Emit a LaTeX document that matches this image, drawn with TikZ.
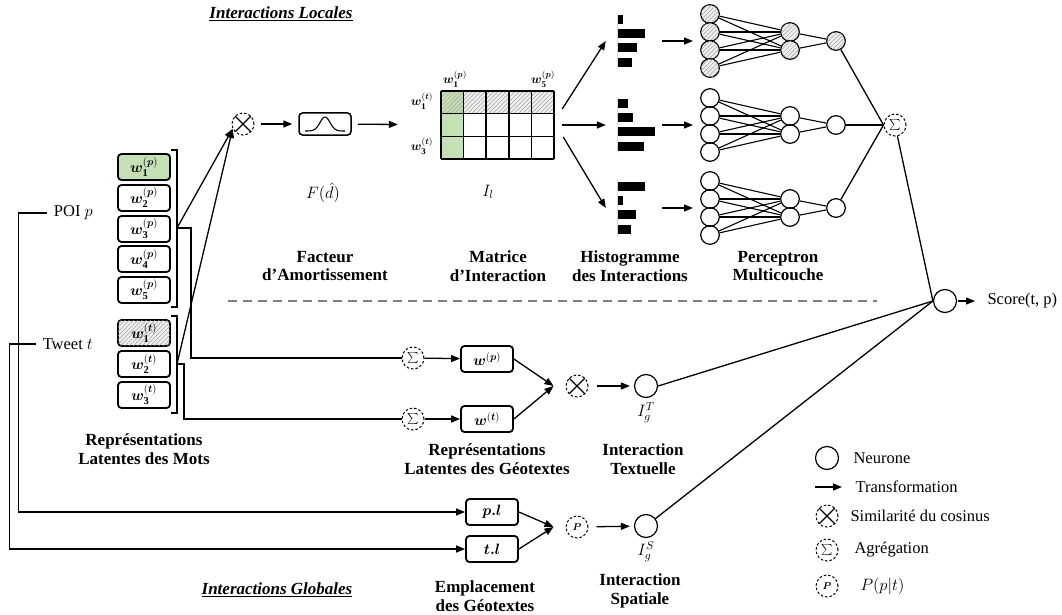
\RequirePackage{fix-cm}
\documentclass[tikz,border=0pt]{standalone}
\usepackage{fontspec}
\setmainfont{Liberation Serif}
\usepackage{amsmath,bm}
\usetikzlibrary{arrows.meta,patterns.meta,calc}
\definecolor{wgreen}{RGB}{197,224,180}
\tikzset{
  lbl/.style={align=center,font=\fontsize{17}{18.5}\selectfont\bfseries},
  ttl/.style={font=\fontsize{17}{18}\selectfont\bfseries\itshape},
  wbox/.style={draw,line width=1.8pt,rounded corners=3.5pt,minimum width=52pt,minimum height=26pt,inner sep=0pt,font=\fontsize{15}{15}\selectfont},
  hatch/.style={fill=gray!12,postaction={pattern={Lines[angle=45,distance=3pt,line width=0.5pt]},pattern color=gray!75}},
  nrn/.style={circle,draw,line width=1.2pt,minimum size=18.6pt,inner sep=0pt},
  nrnh/.style={nrn,hatch},
  bnrn/.style={nrn,minimum size=23pt},
  ops/.style={circle,draw,dash pattern=on 2.5pt off 2pt,line width=1pt,minimum size=22pt,inner sep=0pt,font=\fontsize{11}{11}\selectfont},
  xop/.style={ops,path picture={\draw[solid,line width=1.1pt] (path picture bounding box.south west) -- (path picture bounding box.north east) (path picture bounding box.north west) -- (path picture bounding box.south east);}},
  ln/.style={line width=1.3pt},
  tr/.style={ln,-{Triangle[length=9pt,width=7pt]}},
  gap/.style={shorten <=6pt,shorten >=6pt},
  hist/.style={minimum width=56pt,minimum height=56pt,inner sep=0pt},
  small/.style={font=\fontsize{12.5}{12.5}\selectfont},
}
\begin{document}
\begin{tikzpicture}[x=1pt,y=-1pt,font=\fontsize{16.5}{18.5}\selectfont]
\useasboundingbox (0,0) rectangle (1062,615);

% titres
\node[ttl] (tloc) at (281,14) {\underline{Interactions Locales}};
\node[ttl] (tglob) at (277,590) {\underline{Interactions Globales}};

% mots
\node[wbox,fill=wgreen] (p1) at (144,167) {$\bm{w}^{(\bm{p})}_{\mathbf{1}}$};
\foreach \i/\y in {2/198,3/229,4/259,5/290}
  \node[wbox] (p\i) at (144,\y) {$\bm{w}^{(\bm{p})}_{\mathbf{\i}}$};
\node[wbox,hatch] (t1) at (144,333) {$\bm{w}^{(\bm{t})}_{\mathbf{1}}$};
\foreach \i/\y in {2/364,3/395}
  \node[wbox] (t\i) at (144,\y) {$\bm{w}^{(\bm{t})}_{\mathbf{\i}}$};
\draw[ln,line width=1.1pt] (171,150) -- (177,150) -- (177,307) -- (171,307);
\draw[ln,line width=1.1pt] (171,316) -- (177,316) -- (177,413) -- (171,413);
\coordinate (bp) at (177,228);
\coordinate (bt) at (177,364);
\node[lbl] (lmots) at (144,449) {Représentations\\Latentes des Mots};

\node[anchor=east,inner xsep=7pt] (poi) at (100,213) {POI $p$};
\node[anchor=east,inner xsep=7pt] (tw) at (100,344) {Tweet $t$};

% interactions locales
\node[xop] (cx) at (243,124) {};
\node[wbox,minimum height=22pt,line width=1.5pt] (g) at (325,124) {};
\draw[line width=1.1pt] plot[domain=-20:20,samples=40] ({325+\x},{131-14*exp(-\x*\x/50)});
\node (fd) at (323,193) {$F(\hat{d})$};

\node[minimum width=149pt,minimum height=68pt,inner sep=0pt] (mat) at (479.5,125) {};
\path[hatch] (463.6,91) rectangle (554,113.7);
\fill[wgreen] (441,91) rectangle (463.6,159);
\path[pattern={Lines[angle=45,distance=3pt,line width=0.5pt]},pattern color=gray!75] (441,91) rectangle (463.6,113.7);
\foreach \i in {0,...,5}
  \draw[line width=1.5pt] ({441+\i*22.6},91) -- ({441+\i*22.6},159);
\foreach \j in {0,...,3}
  \draw[line width=1.5pt] (441,{91+\j*22.67}) -- (554,{91+\j*22.67});
\node[small] (mp1) at (455,79) {$\bm{w}^{(\bm{p})}_{\mathbf{1}}$};
\node[small] (mp5) at (543,79) {$\bm{w}^{(\bm{p})}_{\mathbf{5}}$};
\node[small] (mt1) at (422,101) {$\bm{w}^{(\bm{t})}_{\mathbf{1}}$};
\node[small] (mt3) at (422,146) {$\bm{w}^{(\bm{t})}_{\mathbf{3}}$};
\node (il) at (488,192) {$I_l$};

\draw[tr] (bp) -- (cx.205);
\draw[tr] (bt) -- (cx.205);
\draw[tr,gap] (cx) -- (g);
\draw[tr,shorten <=6pt,shorten >=7pt] (g) -- (mat);

% histogrammes et perceptrons
\foreach \k/\c/\a/\b/\d/\e/\st in {1/41/5/27/19/14/nrnh,2/125/10/15/37/26/nrn,3/208/27/5/18/13/nrn}{
  \node[hist] (h\k) at (634,\c) {};
  \draw[gray!30,line width=0.6pt] (617,{\c-28}) -- (617,{\c+28});
  \fill (618,{\c-26}) rectangle ++(\a,9);
  \fill (618,{\c-12}) rectangle ++(\b,9);
  \fill (618,{\c+2}) rectangle ++(\d,9);
  \fill (618,{\c+17}) rectangle ++(\e,9);
  \coordinate (m\k) at (693,\c);
  \draw[tr] (h\k.east) -- (m\k);
  \foreach \i/\dy in {1/-27,2/-9,3/9,4/27}
    \node[\st] (a\k\i) at (710,{\c+\dy}) {};
  \foreach \j/\dy in {1/-9,2/9}
    \node[\st] (b\k\j) at (790,{\c+\dy}) {};
  \node[\st] (o\k) at (836,\c) {};
  \foreach \i in {1,...,4}
    \foreach \j in {1,2}
      \draw[line width=1.1pt] (a\k\i) -- (b\k\j);
  \foreach \j in {1,2}
    \draw[line width=1.1pt] (b\k\j) -- (o\k);
}
\draw[tr] ($(mat.east)+(8,-16)$) -- (h1.west);
\draw[tr] ($(mat.east)+(8,0)$) -- (h2.west);
\draw[tr] ($(mat.east)+(9,12)$) -- (h3.west);

\node[ops] (sum) at (895,125) {$\sum$};
\foreach \k in {1,2,3}
  \draw[ln] (o\k) -- (sum.west);

\node[lbl] (lfac) at (325,266) {Facteur\\d’Amortissement};
\node[lbl] (lmat) at (498,266) {Matrice\\d’Interaction};
\node[lbl] (lhist) at (630,266) {Histogramme\\des Interactions};
\node[lbl] (lmlp) at (778,266) {Perceptron\\Multicouche};

\draw[gray,line width=1.1pt,dash pattern=on 9pt off 6pt] (228,301) -- (877,301);

% score
\node[bnrn] (fin) at (945,301) {};
\node[anchor=west] (score) at (984,301) {Score(t, p)};
\draw[tr,shorten <=1pt,shorten >=9pt] (fin) -- (score);
\draw[ln] (sum) -- (fin.west);

% interactions globales
\node[ops] (sp) at (413,358) {$\sum$};
\node[ops] (st) at (413,419) {$\sum$};
\node[wbox] (wp) at (487,359) {$\bm{w}^{(\bm{p})}$};
\node[wbox] (wt) at (487,419) {$\bm{w}^{(\bm{t})}$};
\draw[ln] (bp) -- ++(14,0) |- (sp);
\draw[ln] (bt) -- ++(7,0) |- (st);
\draw[tr] (sp) -- (wp);
\draw[tr] (st) -- (wt);
\node[xop] (cx2) at (577,386) {};
\coordinate (j1) at ($(cx2.west)+(-12,0)$);
\draw[tr] (wp.east) -- (j1);
\draw[tr] (wt.east) -- (j1);
\node[bnrn] (igt) at (646,386) {};
\node (igtl) at (646,413) {$I_g^T$};
\draw[tr,shorten <=8pt,shorten >=4pt] (cx2) -- (igt);
\node[lbl] (lgeo) at (487,459) {Représentations\\Latentes des Géotextes};
\node[lbl] (ltext) at (643,459) {Interaction\\Textuelle};

\node[wbox] (pl) at (492,512) {$\bm{p.l}$};
\node[wbox] (tl) at (492,549) {$\bm{t.l}$};
\draw[tr] (poi.west) -- ++(-28,0) |- (pl);
\draw[tr] (tw.west) -- ++(-26,0) |- (tl);
\node[ops,font=\fontsize{10}{10}\selectfont] (pp) at (577,527) {$\bm{P}$};
\coordinate (j2) at ($(pp.west)+(-12,0)$);
\draw[tr] (pl.east) -- (j2);
\draw[tr] (tl.east) -- (j2);
\node[bnrn] (igs) at (646,526) {};
\node (igsl) at (646,552) {$I_g^S$};
\draw[tr,shorten <=8pt,shorten >=4pt] (pp) -- (igs);
\node[lbl] (lemp) at (485,596) {Emplacement\\des Géotextes};
\node[lbl] (lspa) at (640,591) {Interaction\\Spatiale};

\draw[ln] (igt.east) -- (fin.west);
\draw[ln] (igs) -- (fin.west);

% legende
\node[bnrn] (lg1) at (827,458) {};
\node[anchor=west] (lg1t) at (850,458) {Neurone};
\coordinate (la) at (815,487);
\coordinate (lb) at (842,487);
\draw[tr] (la) -- (lb);
\node[anchor=west] (lg2t) at (852,487) {Transformation};
\node[xop] (lg3) at (827,516) {};
\node[anchor=west] (lg3t) at (847,516) {Similarité du cosinus};
\node[ops] (lg4) at (827,550) {$\sum$};
\node[anchor=west] (lg4t) at (851,550) {Agrégation};
\node[ops,font=\fontsize{10}{10}\selectfont] (lg5) at (827,586) {$\bm{P}$};
\node[anchor=west] (lg5t) at (857,586) {$P(p|t)$};
\end{tikzpicture}
\end{document}
